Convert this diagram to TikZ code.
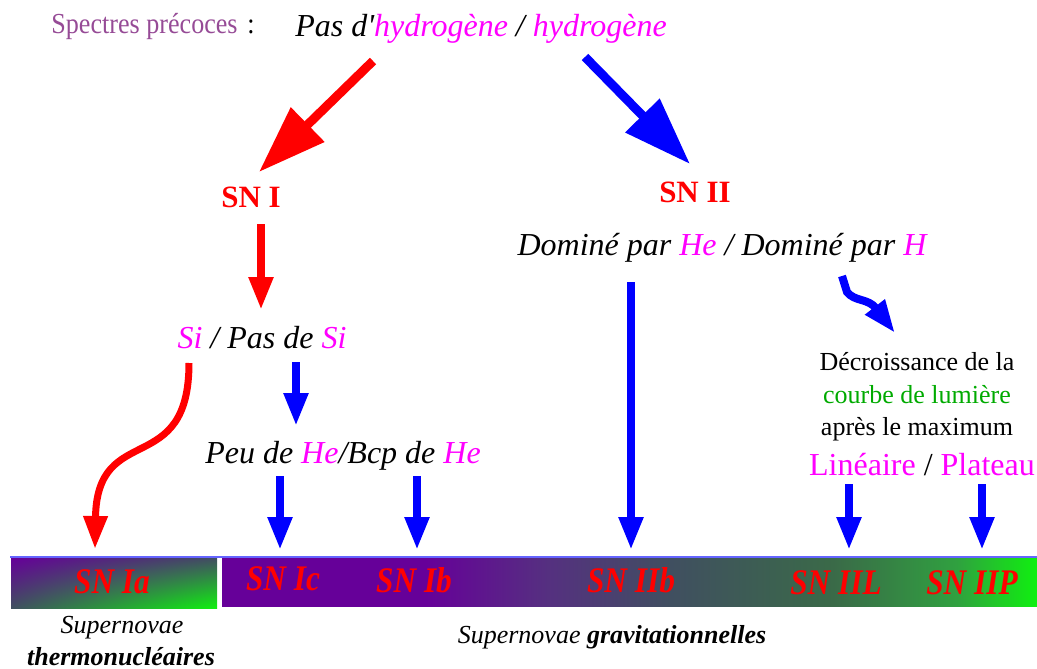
\documentclass[tikz,border=0pt]{standalone}
\usepackage{fontspec}
\setmainfont{Liberation Serif}
\usetikzlibrary{arrows.meta,shadings}
\definecolor{mag}{RGB}{255,0,255}
\definecolor{specc}{RGB}{150,75,150}
\definecolor{grn}{RGB}{0,170,0}
\definecolor{barpur}{RGB}{102,0,153}
\definecolor{barpm}{RGB}{85,48,128}
\definecolor{barmid}{RGB}{64,79,96}
\definecolor{barmidb}{RGB}{58,106,72}
\definecolor{barlg}{RGB}{48,160,64}
\definecolor{bargrn}{RGB}{16,240,16}
\definecolor{linec}{RGB}{100,100,255}
\newcommand\myfs[1]{\fontsize{#1}{#1}\selectfont}
\pgfdeclarehorizontalshading{bartwo}{100bp}{color(0bp)=(barpur); color(37.5bp)=(barpur); color(45bp)=(barpm); color(52.5bp)=(barmid); color(62.5bp)=(barmidb); color(70bp)=(barlg); color(75bp)=(bargrn); color(100bp)=(bargrn)}
\begin{document}
\begin{tikzpicture}[x=1pt,y=-1pt,
  txt/.style={inner sep=0pt, anchor=base},
  bigit/.style={txt, font=\myfs{32}\itshape},
  snlab/.style={txt, font=\myfs{31}\bfseries, red},
  barlab/.style={txt, font=\myfs{36}\bfseries\itshape, red},
  fatarrow/.style={line width=9pt, -{Triangle[length=68pt,width=46pt]}},
  midarrow/.style={line width=8pt, -{Triangle[length=33pt,width=23pt]}}]
\useasboundingbox (0,0) rectangle (1037,669);

% bars
\shade[upper left=barpur, upper right=barmid, lower left=barmid, lower right=bargrn] (11,558) rectangle (217,608);
\shade[shading=bartwo] (222,558) rectangle (1037,606);
\draw[linec, line width=2pt] (10,557) -- (1037,557);

% texts
\node[txt, font=\myfs{29}, specc] (spec) at (144.5,34) {\scalebox{0.9}[1]{Spectres précoces}};
\node[txt, font=\myfs{29}] (colon) at (251,34) {\scalebox{0.9}[1]{:}};
\node[bigit] (hyd) at (481,37) {Pas d\textquotesingle\textcolor{mag}{hydrogène} / \textcolor{mag}{hydrogène}};
\node[snlab] (sn1) at (251,207) {SN I};
\node[snlab] (sn2) at (695,202) {SN II};
\node[bigit] (dom) at (722,255) {Dominé par \textcolor{mag}{He} / Dominé par \textcolor{mag}{H}};
\node[bigit] (si) at (262,348) {\textcolor{mag}{Si} / Pas de \textcolor{mag}{Si}};
\node[bigit] (he) at (343,463) {Peu de \textcolor{mag}{He}/Bcp de \textcolor{mag}{He}};
\node[txt, font=\myfs{26}] (dec1) at (917,370) {Décroissance de la};
\node[txt, font=\myfs{26}, grn] (dec2) at (917,403) {courbe de lumière};
\node[txt, font=\myfs{26}] (dec3) at (917,435) {après le maximum};
\node[txt, font=\myfs{32}] (lin) at (922,475) {\textcolor{mag}{Linéaire} / \textcolor{mag}{Plateau}};

\node[barlab] (ia) at (112,593) {\scalebox{0.87}[1]{SN Ia}};
\node[barlab] (ic) at (283,590) {\scalebox{0.87}[1]{SN Ic}};
\node[barlab] (ib) at (414,592) {\scalebox{0.87}[1]{SN Ib}};
\node[barlab] (iib) at (631,592) {\scalebox{0.87}[1]{SN IIb}};
\node[barlab] (iil) at (836,594) {\scalebox{0.87}[1]{SN IIL}};
\node[barlab] (iip) at (972,594) {\scalebox{0.87}[1]{SN IIP}};

\node[txt, font=\myfs{26}\itshape] (sup1) at (122,633) {Supernovae};
\node[txt, font=\myfs{26}\bfseries\itshape] (sup2) at (121,665) {thermonucléaires};
\node[txt, font=\myfs{26}\itshape] (sup3) at (612,643) {Supernovae \textbf{gravitationnelles}};

% arrow end points
\coordinate (a1s) at (373,61);  \coordinate (a1e) at (259,172);
\coordinate (a2s) at (585,57);  \coordinate (a2e) at (690,164);
\coordinate (a3s) at (261,224); \coordinate (a3e) at (261,310);
\coordinate (a4s) at (189,363); \coordinate (a4e) at (95,549);
\coordinate (a5s) at (296,362); \coordinate (a5e) at (296,426);
\coordinate (a6s) at (280,476); \coordinate (a6e) at (280,550);
\coordinate (a7s) at (417,476); \coordinate (a7e) at (417,550);
\coordinate (a8s) at (631,282); \coordinate (a8e) at (631,550);
\coordinate (a9s) at (842,276); \coordinate (a9m) at (847,292); \coordinate (a9e) at (895,333);
\coordinate (a10s) at (849,484); \coordinate (a10e) at (849,550);
\coordinate (a11s) at (982,484); \coordinate (a11e) at (982,550);

\draw[fatarrow, red] (a1s) -- (a1e);
\draw[fatarrow, blue] (a2s) -- (a2e);
\draw[midarrow, red] (a3s) -- (a3e);
\draw[midarrow, red, line width=7pt] (a4s) .. controls (189,480) and (97,420) .. (a4e);
\draw[midarrow, blue] (a5s) -- (a5e);
\draw[midarrow, blue] (a6s) -- (a6e);
\draw[midarrow, blue] (a7s) -- (a7e);
\draw[midarrow, blue] (a8s) -- (a8e);
\draw[midarrow, blue] (a9s) -- (a9m) .. controls (855,302) and (868,298) .. (a9e);
\draw[midarrow, blue] (a10s) -- (a10e);
\draw[midarrow, blue] (a11s) -- (a11e);
\end{tikzpicture}
\end{document}
